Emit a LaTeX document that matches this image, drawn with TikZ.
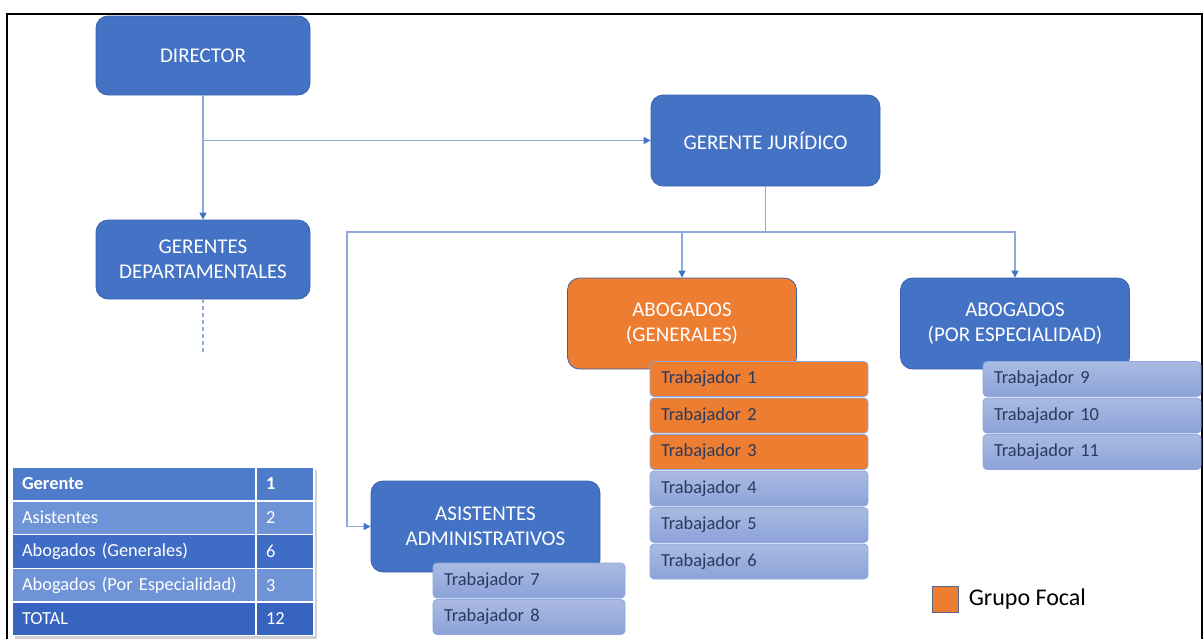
\documentclass[tikz,border=0pt]{standalone}
\usepackage{fontspec}
\setmainfont{Carlito}
\usetikzlibrary{arrows.meta,positioning}
\definecolor{boxblue}{HTML}{4472C4}
\definecolor{boxline}{HTML}{3A62AC}
\definecolor{focal}{HTML}{ED7D31}
\definecolor{wktop}{HTML}{AABAE2}
\definecolor{wkbot}{HTML}{8CA3D9}
\definecolor{wkline}{HTML}{8FA8DD}
\definecolor{wktext}{HTML}{2B3A5C}
\definecolor{connblue}{HTML}{8EAADB}
\definecolor{tabA}{HTML}{4F7BCB}
\definecolor{tabB}{HTML}{6E93D6}
\definecolor{tabC}{HTML}{3F6DC5}
\definecolor{tabD}{HTML}{3764BF}

\begin{document}
\begin{tikzpicture}[x=0.5pt, y=-0.5pt,
    box/.style={rounded corners=6pt, draw=boxline, fill=boxblue, text=white, align=center,
        font=\fontsize{10.5}{12.5}\selectfont, minimum width=107pt, minimum height=39.5pt},
    bigbox/.style={box, minimum width=114.5pt, minimum height=45.5pt},
    wbase/.style={rounded corners=2pt, draw=wkline, text=wktext, align=left, inner xsep=5.5pt,
        font=\fontsize{9.2}{11}\selectfont, minimum height=17.5pt},
    worker/.style={wbase, top color=wktop, bottom color=wkbot},
    focalw/.style={wbase, fill=focal},
    conn/.style={connblue, line width=0.55pt, -{Triangle[length=3.5pt, width=3.5pt, color=boxblue]}},
    line/.style={connblue, line width=0.55pt},
    cell/.style={draw=white, line width=0.7pt, text=white, align=left, inner xsep=5pt,
        font=\fontsize{9.2}{11}\selectfont, minimum height=16.9pt}]
    \useasboundingbox (0,0) rectangle (1204,639);

    % Frame
    \draw[line width=1.3pt] (7,639) -- (7,14) -- (1202,14) -- (1202,639);

    % Main boxes
    \node[box] (dir) at (203,55.5) {DIRECTOR};
    \node[box] (gdep) at (203,259.5) {GERENTES\\DEPARTAMENTALES};
    \node[bigbox] (gj) at (765.5,140.5) {GERENTE JUR\'IDICO};
    \node[bigbox, fill=focal] (abogen) at (682,323.5) {ABOGADOS\\(GENERALES)};
    \node[bigbox] (abopor) at (1015,323.5) {ABOGADOS\\(POR ESPECIALIDAD)};
    \node[bigbox] (asis) at (485.5,526.5) {ASISTENTES\\ADMINISTRATIVOS};

    % Connectors
    \coordinate (split) at (dir.south |- gj.west);
    \coordinate (busl) at (347,232);
    \coordinate (gdepend) at (203,355);
    \draw[conn] (dir) -- (gdep);
    \draw[conn] (split) -- (gj.west);
    \draw[line, dash pattern=on 2pt off 1.5pt] (gdep.south) -- (gdepend);
    \draw[conn] (gj.south) |- (busl) |- (asis.west);
    \draw[conn] (gj.south |- busl) -| (abopor.north);
    \draw[conn] (abogen.north |- busl) -- (abogen.north);

    % Workers
    \foreach \n/\y/\s in {1/379/focalw, 2/415.5/focalw, 3/452/focalw, 4/488.5/worker, 5/525/worker, 6/561.5/worker}
        \node[\s, text width=98pt] (t\n) at (759,\y) {Trabajador \n};
    \foreach \n/\y in {9/379, 10/415.5, 11/452}
        \node[worker, text width=98pt] (t\n) at (1092,\y) {Trabajador \n};
    \foreach \n/\y in {7/580.5, 8/617}
        \node[worker, text width=85pt] (t\n) at (529,\y) {Trabajador \n};

    % Table
    \fill[black!18] (15,470) rectangle (317,639);
    \foreach \i/\lab/\val/\col in {1/{\textbf{Gerente}}/{\textbf{1}}/tabA, 2/Asistentes/2/tabB,
            3/Abogados (Generales)/6/tabC, 4/Abogados (Por Especialidad)/3/tabB, 5/TOTAL/12/tabD}
    {
        \node[cell, fill=\col, text width=112pt] (c\i) at (134,{484+(\i-1)*33.7}) {\lab};
        \node[cell, fill=\col, text width=19pt] (v\i) at (285,{484+(\i-1)*33.7}) {\val};
    }

    % Legend
    \node[draw=wkline!60!black, fill=focal, minimum size=13pt, inner sep=0pt] (leg) at (945,599) {};
    \node[right=3pt of leg, inner sep=2pt, font=\fontsize{12}{14}\selectfont] (legtxt) {Grupo Focal};
\end{tikzpicture}
\end{document}
